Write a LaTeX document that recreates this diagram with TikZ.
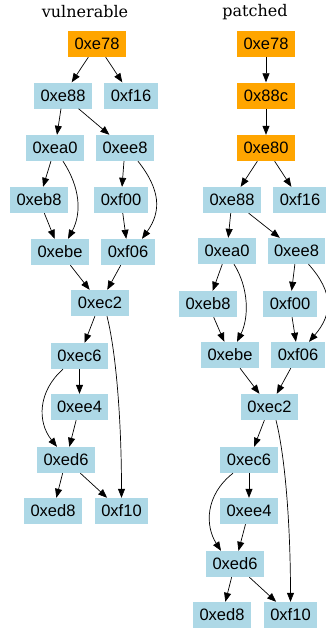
\documentclass[tikz,border=0pt]{standalone}
\usepackage{fontspec}
\setmainfont{DejaVu Serif}
\newfontfamily\boxfont{Liberation Sans}
\usetikzlibrary{arrows.meta}
\definecolor{lightblue}{HTML}{ADD8E6}
\definecolor{hotorange}{HTML}{FFA500}
\tikzstyle{block} = [
    rectangle,
    fill=lightblue,
    minimum height=26pt,
    inner xsep=6.5pt,
    inner ysep=0pt,
    font=\boxfont\fontsize{16.5}{18}\selectfont
]
\tikzstyle{changed} = [block, fill=hotorange]
\tikzstyle{title} = [font=\fontsize{16}{18}\selectfont]
\tikzstyle{arrow} = [line width=0.7pt, -{Triangle[length=9pt,width=7pt]}]

\begin{document}
\begin{tikzpicture}[x=1pt, y=1pt]

\useasboundingbox (0,0) rectangle (326,-630);

% vulnerable
\node (vtitle) [title] at (85,-12) {vulnerable};

\node (ve78) [changed] at (97,-44) {0xe78};
\node (ve88) [block] at (63,-95.5) {0xe88};
\node (vf16) [block] at (131,-95.5) {0xf16};
\node (vea0) [block] at (55,-148) {0xea0};
\node (vee8) [block] at (125,-148) {0xee8};
\node (veb8) [block] at (39,-200) {0xeb8};
\node (vf00) [block] at (121,-200) {0xf00};
\node (vebe) [block] at (60,-252) {0xebe};
\node (vf06) [block] at (128,-252) {0xf06};
\node (vec2) [block] at (100,-303) {0xec2};
\node (vec6) [block] at (79.5,-356) {0xec6};
\node (vee4) [block] at (79.5,-407) {0xee4};
\node (ved6) [block] at (66,-460) {0xed6};
\node (ved8) [block] at (53,-511) {0xed8};
\node (vf10) [block] at (121.5,-511) {0xf10};

\draw [arrow] (ve78) -- (ve88);
\draw [arrow] (ve78) -- (vf16);
\draw [arrow] (ve88) -- (vea0);
\draw [arrow] (ve88) -- (vee8);
\draw [arrow] (vea0) -- (veb8);
\draw [arrow] ([xshift=8]vea0.south) .. controls +(17,-26) and +(14,26) .. ([xshift=8]vebe.north);
\draw [arrow] (vee8) -- (vf00);
\draw [arrow] ([xshift=13]vee8.south) .. controls +(22,-28) and +(20,28) .. ([xshift=14]vf06.north);
\draw [arrow] (veb8) -- (vebe);
\draw [arrow] (vf00) -- (vf06);
\draw [arrow] (vebe) -- (vec2);
\draw [arrow] (vf06) -- (vec2);
\draw [arrow] (vec2) -- (vec6);
\draw [arrow] ([xshift=7]vec2.south) .. controls +(10,-40) and +(0,70) .. (vf10.north);
\draw [arrow] (vec6) -- (vee4);
\draw [arrow] ([xshift=-16.5]vec6.south) .. controls +(-25,-22) and +(-20,25) .. ([xshift=-9]ved6.north);
\draw [arrow] (vee4) -- (ved6);
\draw [arrow] (ved6) -- (ved8);
\draw [arrow] (ved6) -- (vf10);

% patched
\node (ptitle) [title] at (255,-12) {patched};

\node (pe78) [changed] at (266,-44) {0xe78};
\node (p88c) [changed] at (266,-95.5) {0x88c};
\node (pe80) [changed] at (266,-148) {0xe80};
\node (pe88) [block] at (232,-200) {0xe88};
\node (pf16) [block] at (300,-200) {0xf16};
\node (pea0) [block] at (227,-251) {0xea0};
\node (pee8) [block] at (296.5,-251) {0xee8};
\node (peb8) [block] at (208,-304) {0xeb8};
\node (pf00) [block] at (290,-304) {0xf00};
\node (pebe) [block] at (230,-355) {0xebe};
\node (pf06) [block] at (298,-355) {0xf06};
\node (pec2) [block] at (269.5,-407) {0xec2};
\node (pec6) [block] at (249,-460) {0xec6};
\node (pee4) [block] at (249,-511) {0xee4};
\node (ped6) [block] at (235,-564) {0xed6};
\node (ped8) [block] at (222,-615) {0xed8};
\node (pf10) [block] at (290.5,-615) {0xf10};

\draw [arrow] (pe78) -- (p88c);
\draw [arrow] (p88c) -- (pe80);
\draw [arrow] (pe80) -- (pe88);
\draw [arrow] (pe80) -- (pf16);
\draw [arrow] (pe88) -- (pea0);
\draw [arrow] (pe88) -- (pee8);
\draw [arrow] (pea0) -- (peb8);
\draw [arrow] ([xshift=7]pea0.south) .. controls +(15,-24) and +(12,24) .. ([xshift=7]pebe.north);
\draw [arrow] (pee8) -- (pf00);
\draw [arrow] ([xshift=12]pee8.south) .. controls +(25,-28) and +(24,28) .. ([xshift=11]pf06.north);
\draw [arrow] (peb8) -- (pebe);
\draw [arrow] (pf00) -- (pf06);
\draw [arrow] (pebe) -- (pec2);
\draw [arrow] (pf06) -- (pec2);
\draw [arrow] (pec2) -- (pec6);
\draw [arrow] ([xshift=6.5]pec2.south) .. controls +(10,-40) and +(0,70) .. (pf10.north);
\draw [arrow] (pec6) -- (pee4);
\draw [arrow] ([xshift=-16]pec6.south) .. controls +(-28,-22) and +(-16,25) .. ([xshift=-14]ped6.north);
\draw [arrow] (pee4) -- (ped6);
\draw [arrow] (ped6) -- (ped8);
\draw [arrow] (ped6) -- (pf10);

\end{tikzpicture}
\end{document}
